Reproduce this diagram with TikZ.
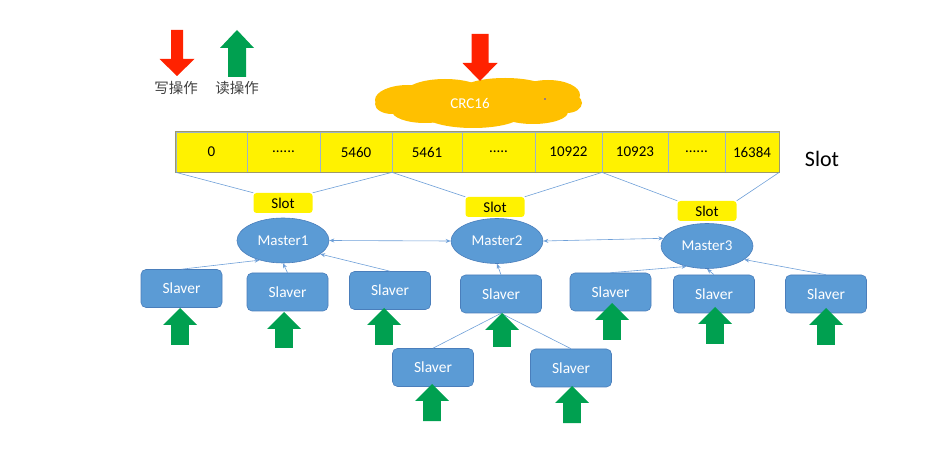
\documentclass[tikz,border=0pt]{standalone}
\usepackage{fontspec}
\setmainfont{Carlito}
\newfontfamily\cjk{Noto Sans CJK SC}
\usetikzlibrary{shapes.symbols,shapes.geometric,arrows.meta}
\definecolor{nodeblue}{HTML}{5B9BD5}
\definecolor{nodeedge}{HTML}{4A7EBB}
\definecolor{arrgreen}{HTML}{00A050}
\definecolor{arrred}{HTML}{FF2200}
\definecolor{cloudorange}{HTML}{FFC000}
\definecolor{slotyellow}{HTML}{FFF200}
\definecolor{celledge}{HTML}{9DB4C8}
\definecolor{linkblue}{HTML}{6FA0D8}
\newcommand\uparr[6]{% cx, top y, head half width, shaft half width, head base y, bottom y
  \fill[arrgreen] (#1,#2) -- (#1+#3,#5) -- (#1+#4,#5) -- (#1+#4,#6) -- (#1-#4,#6) -- (#1-#4,#5) -- (#1-#3,#5) -- cycle;}
\newcommand\downarr[6]{% cx, top y, head half width, shaft half width, head base y, tip y
  \fill[arrred] (#1-#4,#2) -- (#1+#4,#2) -- (#1+#4,#5) -- (#1+#3,#5) -- (#1,#6) -- (#1-#3,#5) -- (#1-#4,#5) -- cycle;}
\begin{document}
\begin{tikzpicture}[x=1pt,y=-1pt,
  txt/.style={font=\fontsize{15}{17}\selectfont},
  cell/.style={txt, draw=celledge, fill=slotyellow, minimum height=40, inner sep=0, line width=0.6pt},
  slotlbl/.style={txt, fill=slotyellow, rounded corners=3, minimum width=59, minimum height=20, inner sep=0},
  master/.style={txt, ellipse, fill=nodeblue, draw=nodeedge, line width=0.6pt, text=white, minimum width=92, minimum height=45, inner sep=0},
  slaver/.style={font=\fontsize{15.5}{17}\selectfont, rectangle, rounded corners=5, fill=nodeblue, draw=nodeedge, line width=0.6pt, text=white, minimum width=81, minimum height=38, inner sep=0},
  link/.style={draw=linkblue, line width=0.6pt},
  tip/.style={-{Stealth[length=5pt,width=4pt]}},
  tips/.style={{Stealth[length=5pt,width=4pt]}-{Stealth[length=5pt,width=4pt]}}
]
\useasboundingbox (0,0) rectangle (943,470);

% legend
\downarr{177}{30}{17.5}{6}{59}{76}
\node[font=\cjk\fontsize{14.5}{16}\selectfont, text=black!75] (wlabel) at (176,88) {写操作};
\uparr{237}{30}{17}{9}{48}{77}
\node[font=\cjk\fontsize{14.5}{16}\selectfont, text=black!75] (rlabel) at (237,88) {读操作};

% cloud, built from overlapping puffs
\begin{scope}[fill=cloudorange]
  \fill (478,103) ellipse [x radius=92, y radius=19];
  \fill (408,100) ellipse [x radius=33, y radius=15];
  \fill (392,104) ellipse [x radius=17, y radius=10];
  \fill (445,93) ellipse [x radius=40, y radius=14];
  \fill (505,89) ellipse [x radius=42, y radius=11];
  \fill (548,95) ellipse [x radius=32, y radius=15];
  \fill (567,103) ellipse [x radius=15, y radius=10];
  \fill (473,115) ellipse [x radius=48, y radius=13];
  \fill (425,111) ellipse [x radius=33, y radius=12];
  \fill (533,112) ellipse [x radius=35, y radius=12];
\end{scope}
\node[txt, text=white] (crct) at (470,103) {CRC16};
\fill[blue!80] (545,99) circle (0.9);
\downarr{480}{34}{17.5}{8.5}{63}{81}

% slot bar
\node[cell, minimum width=71] (c1) at (211.5,152) {0};
\node[cell, minimum width=73] (c2) at (283.5,152) {......};
\node[cell, minimum width=72] (c3) at (356,152) {5460};
\node[cell, minimum width=70] (c4) at (427,152) {5461};
\node[cell, minimum width=73] (c5) at (498.5,152) {.....};
\node[cell, minimum width=67] (c6) at (568.5,152) {10922};
\node[cell, minimum width=66] (c7) at (635,152) {10923};
\node[cell, minimum width=57] (c8) at (696.5,152) {......};
\node[cell, minimum width=54] (c9) at (752,152) {16384};
\draw[draw=black!45!olive!60, line width=0.6pt] (c1.north west) rectangle (c9.south east);
\node[font=\fontsize{22}{26}\selectfont] (slotbig) at (822,159) {Slot};

% slot labels
\node[slotlbl] (sl1) at (283,203) {Slot};
\node[slotlbl] (sl2) at (495,207) {Slot};
\node[slotlbl] (sl3) at (707,211) {Slot};
\draw[link] (c1.south west) -- (sl1.north west);
\draw[link] (c3.south east) -- (sl1.north east);
\draw[link] (c4.south west) -- (sl2.north west);
\draw[link] (c6.south east) -- (sl2.north east);
\draw[link] (c7.south west) -- (sl3.north west);
\draw[link] (c9.south east) -- (sl3.north east);

% masters
\node[master] (m1) at (283,240.5) {Master1};
\node[master] (m2) at (497,241) {Master2};
\node[master] (m3) at (707,246) {Master3};

% slavers
\node[slaver] (s1) at (181.5,288.5) {Slaver};
\node[slaver] (s2) at (287.5,292) {Slaver};
\node[slaver] (s3) at (390,290.5) {Slaver};
\node[slaver] (s4) at (501,294) {Slaver};
\node[slaver] (s5) at (433,367.5) {Slaver};
\node[slaver] (s6) at (571,368) {Slaver};
\node[slaver] (s7) at (610.5,292) {Slaver};
\node[slaver] (s8) at (714,294) {Slaver};
\node[slaver] (s9) at (826,294) {Slaver};

% connectors
\draw[link,tips] (m1.east) -- (m2.west);
\draw[link,tips] (m2.east) -- (m3.170);
\draw[link,tip] (s1.north) -- (m1.-140);
\draw[link,tip] (s2.north) -- (m1.south);
\draw[link,tip] (s3.north) -- (m1.-20);
\draw[link,tip] (s4.north) -- (m2.south);
\draw[link] (s5.north) -- (s4.south);
\draw[link] (s6.north) -- (s4.south);
\draw[link,tip] (s7.north) -- (m3.-135);
\draw[link,tip] (s8.north) -- (m3.south);
\draw[link,tip] (s9.north) -- (m3.-20);

% read arrows
\uparr{180}{308}{17}{8.8}{325}{345}
\uparr{284}{312}{17}{8.8}{329}{348}
\uparr{384}{308}{17}{8.8}{325}{345}
\uparr{502}{313}{17}{8.8}{330}{347}
\uparr{432}{384}{17}{8.8}{401}{421}
\uparr{572}{386}{17}{8.8}{403}{423}
\uparr{612}{303}{17}{8.8}{320}{340}
\uparr{715}{307}{17}{8.8}{324}{344}
\uparr{826}{308}{17}{8.8}{325}{345}
\end{tikzpicture}
\end{document}
